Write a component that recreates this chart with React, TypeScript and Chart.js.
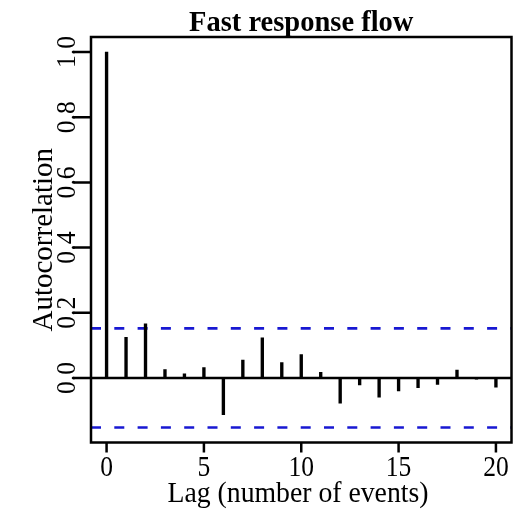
import React, { useEffect, useRef } from "react";
import { Chart, registerables } from "chart.js";

Chart.register(...registerables);

const TITLE = "Fast response flow";
const X_LABEL = "Lag (number of events)";
const Y_LABEL = "Autocorrelation";

const LAGS = [0, 1, 2, 3, 4, 5, 6, 7, 8, 9, 10, 11, 12, 13, 14, 15, 16, 17, 18, 19, 20];
const ACF = [
  1.0, 0.125, 0.166, 0.026, 0.013, 0.032, -0.113, 0.055, 0.123, 0.047, 0.072,
  0.017, -0.077, -0.021, -0.059, -0.04, -0.03, -0.02, 0.024, -0.004, -0.028,
];
const CONF_LIMIT = 0.152;

const X_TICKS = [0, 5, 10, 15, 20];
const X_TICK_LABELS = ["0", "5", "10", "15", "20"];
const Y_TICKS = [0, 0.2, 0.4, 0.6, 0.8, 1.0];
const Y_TICK_LABELS = ["0.0", "0.2", "0.4", "0.6", "0.8", "1.0"];
const X_RANGE = [-0.8, 20.8];
const Y_RANGE = [-0.198, 1.046];

const FONT = "'Liberation Serif', 'Times New Roman', serif";
const BLUE = "#1818d2";

function drawScaledText(
  ctx: CanvasRenderingContext2D,
  text: string,
  x: number,
  y: number,
  font: string,
  sx: number,
  rot = 0
) {
  ctx.save();
  ctx.translate(x, y);
  if (rot) ctx.rotate(rot);
  ctx.scale(sx, 1);
  ctx.font = font;
  ctx.fillText(text, 0, 0);
  ctx.restore();
}

const axesPlugin = {
  id: "rStyleAxes",
  afterDraw(chart: any) {
    const ctx = chart.ctx as CanvasRenderingContext2D;
    const { left, right, top, bottom } = chart.chartArea;
    const xs = chart.scales.x;
    const ys = chart.scales.y;
    ctx.save();
    ctx.strokeStyle = "#000";
    ctx.fillStyle = "#000";
    ctx.lineWidth = 2.5;
    ctx.lineCap = "butt";
    ctx.textAlign = "center";
    ctx.textBaseline = "alphabetic";

    // zero line
    const y0 = ys.getPixelForValue(0);
    ctx.beginPath();
    ctx.moveTo(left, y0);
    ctx.lineTo(right, y0);
    ctx.stroke();

    // box
    ctx.strokeRect(left, top, right - left, bottom - top);

    // x tick labels
    X_TICKS.forEach((v, i) => {
      const px = xs.getPixelForValue(v);
      drawScaledText(ctx, X_TICK_LABELS[i], px, 476, `29px ${FONT}`, 0.88);
    });

    // y tick labels (rotated)
    Y_TICKS.forEach((v, i) => {
      const py = ys.getPixelForValue(v);
      drawScaledText(ctx, Y_TICK_LABELS[i], 75, py, `26.5px ${FONT}`, 0.97, -Math.PI / 2);
    });

    // tick marks
    ctx.beginPath();
    X_TICKS.forEach((v) => {
      const px = xs.getPixelForValue(v);
      ctx.moveTo(px, bottom);
      ctx.lineTo(px, bottom + 10);
    });
    Y_TICKS.forEach((v) => {
      const py = ys.getPixelForValue(v);
      ctx.moveTo(left - 17, py);
      ctx.lineTo(left, py);
    });
    ctx.stroke();

    // title
    drawScaledText(ctx, TITLE, (left + right) / 2, 30.5, `bold 28.5px ${FONT}`, 1);

    // x axis title
    drawScaledText(ctx, X_LABEL, 298, 502, `29.5px ${FONT}`, 0.94);

    // y axis title
    drawScaledText(ctx, Y_LABEL, 52, (top + bottom) / 2, `29px ${FONT}`, 1, -Math.PI / 2);

    ctx.restore();
  },
};

export default function App() {
  const ref = useRef<HTMLCanvasElement | null>(null);

  useEffect(() => {
    document.body.style.margin = "0";
    const canvas = ref.current;
    if (!canvas) return;
    const chart = new Chart(canvas, {
      type: "bar",
      data: {
        datasets: [
          {
            type: "bar",
            data: LAGS.map((l, i) => ({ x: l, y: ACF[i] })),
            backgroundColor: "#000",
            borderWidth: 0,
            barThickness: 2.7,
          } as any,
          {
            type: "line",
            data: [
              { x: X_RANGE[0], y: CONF_LIMIT },
              { x: X_RANGE[1], y: CONF_LIMIT },
            ],
            borderColor: BLUE,
            borderWidth: 2.7,
            borderDash: [10, 13.3],
            pointRadius: 0,
            fill: false,
          } as any,
          {
            type: "line",
            data: [
              { x: X_RANGE[0], y: -CONF_LIMIT },
              { x: X_RANGE[1], y: -CONF_LIMIT },
            ],
            borderColor: BLUE,
            borderWidth: 2.7,
            borderDash: [10, 13.3],
            pointRadius: 0,
            fill: false,
          } as any,
        ],
      },
      options: {
        responsive: false,
        animation: false,
        devicePixelRatio: 1,
        layout: { padding: { left: 91, right: 2.5, top: 37, bottom: 69.5 } },
        plugins: {
          legend: { display: false },
          tooltip: { enabled: false },
          title: { display: false },
        },
        scales: {
          x: { type: "linear", min: X_RANGE[0], max: X_RANGE[1], display: false, offset: false },
          y: { type: "linear", min: Y_RANGE[0], max: Y_RANGE[1], display: false },
        },
      } as any,
      plugins: [axesPlugin],
    });
    return () => chart.destroy();
  }, []);

  return <canvas ref={ref} width={514} height={512} style={{ display: "block" }} />;
}
